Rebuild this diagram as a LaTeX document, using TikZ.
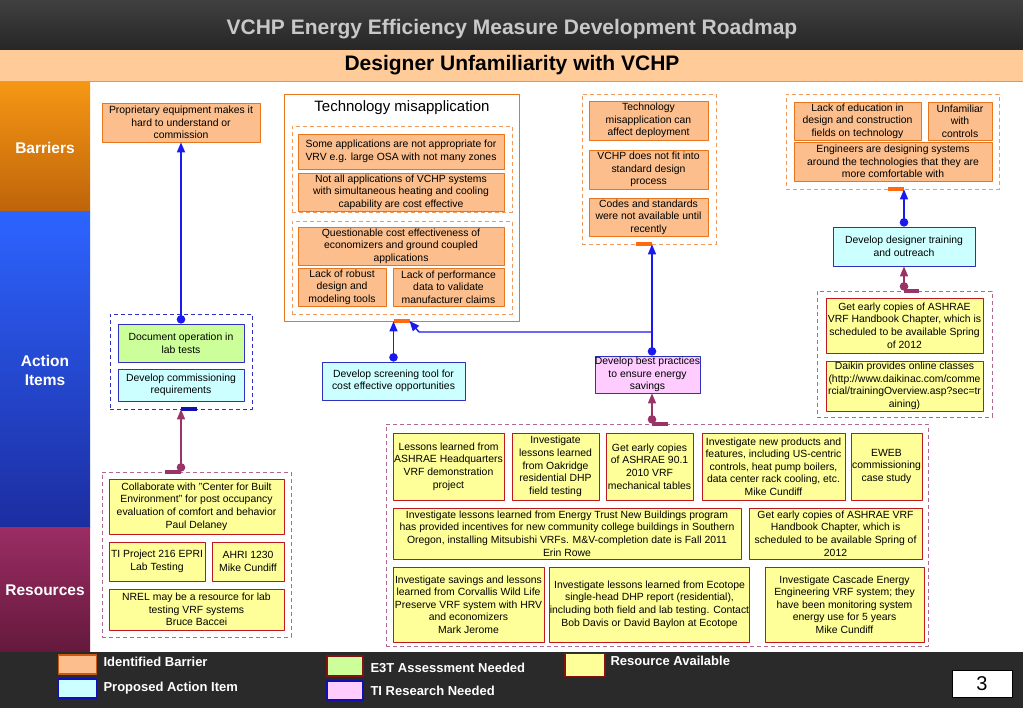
\documentclass[tikz,border=0pt]{standalone}
\usepackage{fontspec}
\setmainfont{Liberation Sans}
\usetikzlibrary{arrows.meta}

\definecolor{barfill}{HTML}{FBBE8C}
\definecolor{barline}{HTML}{E8761E}
\definecolor{bargroup}{HTML}{F39A5A}
\definecolor{actfill}{HTML}{CCFFFF}
\definecolor{actline}{HTML}{3030C0}
\definecolor{evalfill}{HTML}{CCFF99}
\definecolor{tifill}{HTML}{FFCCFF}
\definecolor{resfill}{HTML}{FFFF99}
\definecolor{resline}{HTML}{C0181E}
\definecolor{resgroup}{HTML}{B0688E}
\definecolor{linkblue}{HTML}{1A1AF0}
\definecolor{linkmaroon}{HTML}{9A3468}
\definecolor{tabor}{HTML}{FF6A10}
\definecolor{tabblue}{HTML}{1010B0}
\definecolor{hdtop}{HTML}{404040}
\definecolor{hdbot}{HTML}{262626}
\definecolor{hdtext}{HTML}{C8C8C8}
\definecolor{subfill}{HTML}{FFCC99}
\definecolor{footbg}{HTML}{2A2A2A}

\begin{document}
\begin{tikzpicture}[x=1pt,y=-1pt,line join=round,
  box/.style={draw, line width=0.8pt, align=center, inner sep=0pt, font=\fontsize{10.4}{12.6}\selectfont},
  barrier/.style={box, fill=barfill, draw=barline},
  action/.style={box, fill=actfill, draw=actline},
  evalbox/.style={box, fill=evalfill, draw=actline},
  tibox/.style={box, fill=tifill, draw=actline},
  resource/.style={box, fill=resfill, draw=resline},
  group/.style={draw, dash pattern=on 4pt off 3pt, line width=0.7pt, inner sep=0pt},
  tab/.style={line width=4pt},
  actarrow/.style={draw=linkblue, line width=1.4pt, {Circle[length=8.5pt]}-{Triangle[length=10pt,width=8pt]}},
  resarrow/.style={draw=linkmaroon, line width=1.4pt, {Circle[length=8.5pt]}-{Triangle[length=10pt,width=8pt]}},
  sidelabel/.style={text=white, font=\bfseries\fontsize{15.5}{19}\selectfont, align=center},
  swatch/.style={minimum width=38, minimum height=19, inner sep=0pt, line width=1.2pt},
  keytext/.style={anchor=west, text=white, font=\bfseries\fontsize{13}{15}\selectfont}
]
\useasboundingbox (0,0) rectangle (1023,708);
\fill[white] (0,0) rectangle (1023,708);

% Header bands
\shade[top color=hdtop, bottom color=hdbot] (0,0) rectangle (1023,50);
\node[text=hdtext, font=\bfseries\fontsize{21}{25}\selectfont] (title) at (512,29) {VCHP Energy Efficiency Measure Development Roadmap};
\fill[subfill] (0,50) rectangle (1023,82);
\draw[gray!70, line width=1pt] (0,82) -- (1023,82);
\node[font=\bfseries\fontsize{21}{25}\selectfont] (subtitle) at (512,65) {Designer Unfamiliarity with VCHP};

% Row labels
\shade[top color={rgb,255:red,245;green,150;blue,20}, bottom color={rgb,255:red,190;green,100;blue,10}] (0,83) rectangle (90,212);
\shade[top color={rgb,255:red,45;green,100;blue,255}, bottom color={rgb,255:red,28;green,45;blue,160}] (0,212) rectangle (90,527);
\shade[top color={rgb,255:red,155;green,45;blue,100}, bottom color={rgb,255:red,100;green,25;blue,60}] (0,527) rectangle (90,652);
\node[sidelabel] (barlabel) at (45,148) {Barriers};
\node[sidelabel] (actlabel) at (45,370) {Action\\Items};
\node[sidelabel] (reslabel) at (45,590) {Resources};

% Groups
\node[draw=barline, line width=0.8pt, inner sep=0pt, minimum width=235, minimum height=227] (techbox) at (402,207.5) {};
\node[font=\fontsize{15}{18}\selectfont] (techtitle) at (402,108) {Technology misapplication};
\foreach \nm/\xa/\ya/\xb/\yb/\col in {
  techg1/292/126/512/212/bargroup,
  techg2/292/221/512/314/bargroup,
  midbar/582/94/716/244/bargroup,
  rightbar/786/94/999/189/bargroup,
  actleft/110/314/252/409/actline,
  resright/817/291/992/417/resgroup,
  resleft/102/472/291/637/resgroup,
  resmid/386/424/928/646/resgroup} {
  \node[group, draw=\col, minimum width={\xb-\xa}, minimum height={\yb-\ya}] (\nm) at ({(\xa+\xb)/2},{(\ya+\yb)/2}) {};
}

% Barriers
\foreach \nm/\xa/\ya/\xb/\yb/\txt in {
  prop/102/103/260/142/{Proprietary equipment makes it\\hard to understand or\\commission},
  someapp/298/134/504/169/{Some applications are not appropriate for\\VRV e.g. large OSA with not many zones},
  notall/298/173/504/211/{Not all applications of VCHP systems\\with simultaneous heating and cooling\\capability are cost effective},
  quest/298/227/504/265/{Questionable cost effectiveness of\\economizers and ground coupled\\applications},
  robust/298/268/386/306/{Lack of robust\\design and\\modeling tools},
  perf/393/268/504/306/{Lack of performance\\data to validate\\manufacturer claims},
  techaff/589/101/708/140/{Technology\\misapplication can\\affect deployment},
  notfit/589/150/708/189/{VCHP does not fit into\\standard design\\process},
  codes/589/198/708/236/{Codes and standards\\were not available until\\recently},
  educ/794/102/921/140/{Lack of education in\\design and construction\\fields on technology},
  unfam/928/102/992/140/{Unfamiliar\\with\\controls},
  engin/794/142/992/181/{Engineers are designing systems\\around the technologies that they are\\more comfortable with}} {
  \node[barrier, minimum width={\xb-\xa}, minimum height={\yb-\ya}] (\nm) at ({(\xa+\xb)/2},{(\ya+\yb)/2}) {\txt};
}

% Action items
\node[evalbox, minimum width=126, minimum height=38] (docop) at (181,343) {Document operation in\\lab tests};
\node[action, minimum width=126, minimum height=32] (devcomm) at (181,385) {Develop commissioning\\requirements};
\node[action, minimum width=143, minimum height=38] (screen) at (393.5,381) {Develop screening tool for\\cost effective opportunities};
\node[tibox, minimum width=101, minimum height=37] (best) at (647.5,374.5) {Develop best practices\\to ensure energy\\savings};
\node[action, minimum width=142, minimum height=39] (training) at (904,246.5) {Develop designer training\\and outreach};

% Resources
\foreach \nm/\xa/\ya/\xb/\yb/\txt in {
  getvrf/826/298/983/353/{Get early copies of ASHRAE\\VRF Handbook Chapter, which is\\scheduled to be available Spring\\of 2012},
  collab/109/479/284/534/{Collaborate with "Center for Built\\Environment" for post occupancy\\evaluation of comfort and behavior\\Paul Delaney},
  tiproj/109/542/205/581/{TI Project 216 EPRI\\Lab Testing},
  ahri/212/542/284/581/{AHRI 1230\\Mike Cundiff},
  nrel/109/589/284/630/{NREL may be a resource for lab\\testing VRF systems\\Bruce Baccei},
  ashhq/393/433/504/500/{Lessons learned from\\ASHRAE Headquarters\\VRF demonstration\\project},
  oakr/512/433/599/500/{Investigate\\lessons learned\\from Oakridge\\residential DHP\\field testing},
  ashnine/606/433/693/500/{Get early copies\\of ASHRAE 90.1\\2010 VRF\\mechanical tables},
  newprod/702/433/845/500/{Investigate new products and\\features, including US-centric\\controls, heat pump boilers,\\data center rack cooling, etc.\\Mike Cundiff},
  eweb/851/433/922/500/{EWEB\\commissioning\\case study},
  etrust/393/508/741/559/{Investigate lessons learned from Energy Trust New Buildings program\\has provided incentives for new community college buildings in Southern\\Oregon, installing Mitsubishi VRFs. M\&V-completion date is Fall 2011\\Erin Rowe},
  vrfbook/749/508/922/559/{Get early copies of ASHRAE VRF\\Handbook Chapter, which is\\scheduled to be available Spring of\\2012},
  corv/393/567/544/642/{Investigate savings and lessons\\learned from Corvallis Wild Life\\Preserve VRF system with HRV\\and economizers\\Mark Jerome},
  ecotope/552/567/747/642/{Investigate lessons learned from Ecotope\\single-head DHP report (residential),\\including both field and lab testing. Contact\\Bob Davis or David Baylon at Ecotope},
  cascade/765/567/924/642/{Investigate Cascade Energy\\Engineering VRF system; they\\have been monitoring system\\energy use for 5 years\\Mike Cundiff}} {
  \node[resource, minimum width={\xb-\xa}, minimum height={\yb-\ya}] (\nm) at ({(\xa+\xb)/2},{(\ya+\yb)/2}) {\txt};
}
\node[resource, minimum width=157, minimum height=50] (daikin) at (904.5,386) {Daikin provides online classes\\(http://www.daikinac.com/comme\\rcial/trainingOverview.asp?sec=tr\\aining)};

% Tabs on group borders
\coordinate (bestdot) at ([xshift=4.5pt]best.north);
\draw[tab, draw=tabor] (screen.north |- techbox.south) -- ++(16,0);
\draw[tab, draw=tabor] (bestdot |- midbar.south) -- ++(-16,0);
\draw[tab, draw=tabor] (training.north |- rightbar.south) -- ++(-16,0);
\draw[tab, draw=tabblue] (docop.south |- actleft.south) -- ++(16,0);
\draw[tab, draw=linkmaroon] (docop.south |- resleft.north) -- ++(-16,0);
\draw[tab, draw=linkmaroon] (bestdot |- resmid.north) -- ++(16,0);
\draw[tab, draw=linkmaroon] (training.south |- resright.north) -- ++(15,0);

% Action items to barriers
\draw[actarrow] (docop.north) -- (prop.south);
\draw[actarrow] (screen.north) -- (screen.north |- techbox.south);
\draw[actarrow] (bestdot) -- (bestdot |- midbar.south);
\draw[actarrow] (training.north) -- (training.north |- rightbar.south);
\coordinate (branchlvl) at (0,332);
\coordinate (bend) at (419,332);
\coordinate (techtabend) at (409.5,321);
\draw[draw=linkblue, line width=1.4pt, -{Triangle[length=10pt,width=8pt]}] (bestdot |- branchlvl) -- (bend) -- (techtabend);

% Resources to action items
\draw[resarrow] (docop.south |- resleft.north) -- (docop.south |- actleft.south);
\draw[resarrow] (bestdot |- resmid.north) -- (bestdot |- best.south);
\draw[resarrow] (training.south |- resright.north) -- (training.south);

% Footer and key
\fill[footbg] (0,652) rectangle (1023,708);
\node[swatch, fill=barfill, draw={rgb,255:red,200;green,90;blue,20}] (keybar) at (77.5,664.5) {};
\node[keytext] at (100,662) {Identified Barrier};
\node[swatch, fill=actfill, draw=tabblue] (keyact) at (77.5,688.5) {};
\node[keytext] at (100,688) {Proposed Action Item};
\node[swatch, minimum width=36, minimum height=20, fill=evalfill, draw=resline!70!black] (keyeval) at (345,666) {};
\node[keytext] at (367,668) {E3T Assessment Needed};
\node[swatch, minimum width=36, fill=tifill, draw=tabblue] (keyti) at (345,690.5) {};
\node[keytext] at (367,691) {TI Research Needed};
\node[swatch, minimum width=40, minimum height=23, fill=resfill, draw=resline!70!black] (keyres) at (585,665) {};
\node[keytext] at (607,661) {Resource Available};
\node[draw=black, fill=white, inner sep=0pt, minimum width=60, minimum height=27, font=\fontsize{20}{24}\selectfont] (pagenum) at (982,683.5) {3};

\end{tikzpicture}
\end{document}
